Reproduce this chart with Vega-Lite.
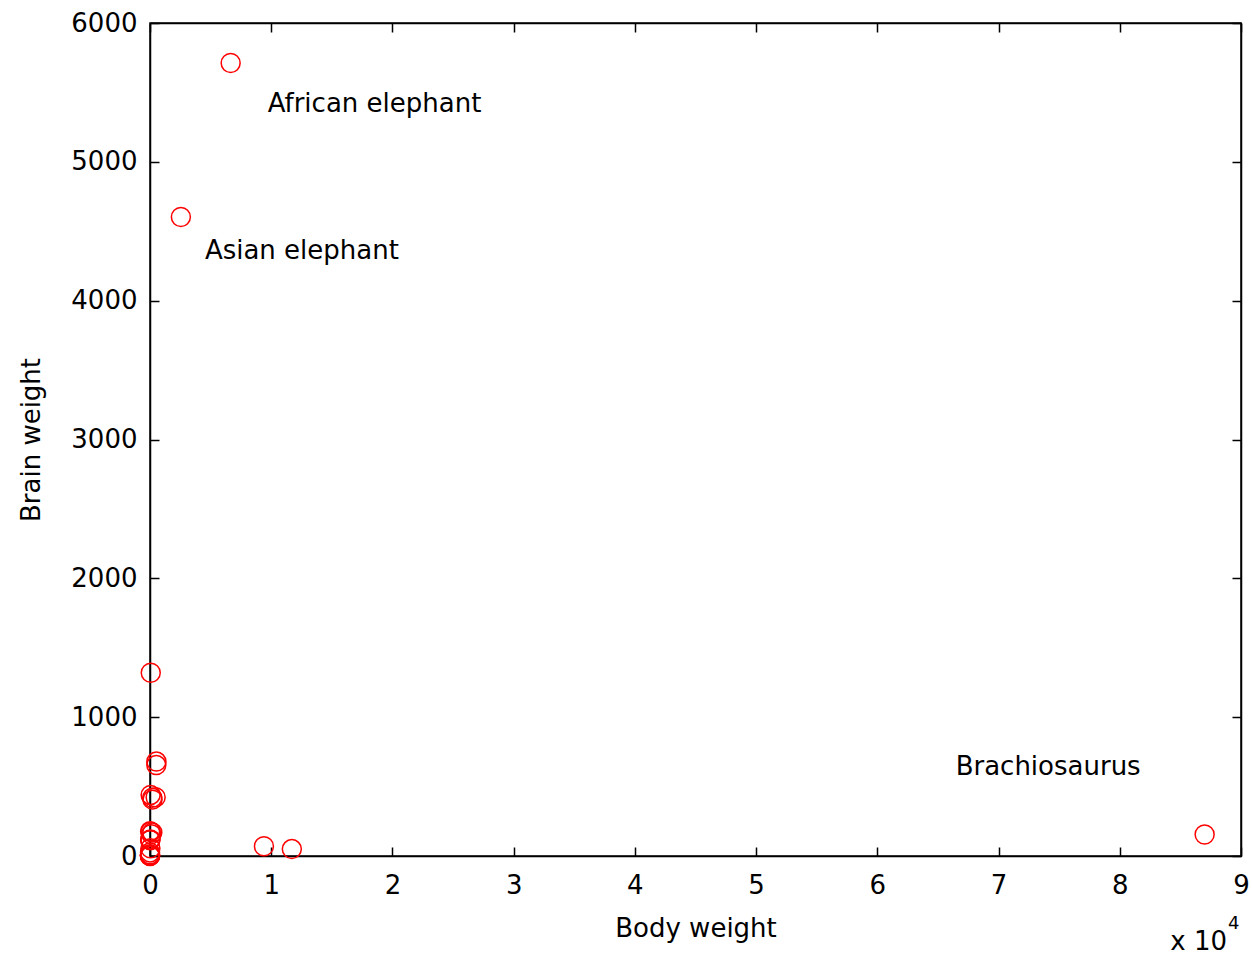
{
  "$schema": "https://vega.github.io/schema/vega-lite/v6.json",
  "width": 1091,
  "height": 833,
  "autosize": {"type": "none"},
  "padding": {"left": 150, "top": 23, "right": 11, "bottom": 100},
  "background": "white",
  "config": {
    "view": {"stroke": "black", "strokeWidth": 1.5},
    "axis": {
      "grid": false,
      "domainColor": "black",
      "domainWidth": 1.5,
      "tickColor": "black",
      "tickWidth": 1.5,
      "tickSize": -9,
      "labelColor": "black",
      "labelFont": "DejaVu Sans",
      "labelFontSize": 26,
      "titleFont": "DejaVu Sans",
      "titleFontSize": 26,
      "titleFontWeight": "normal",
      "titleColor": "black"
    }
  },
  "datasets": {
    "animals": [
      {"animal": "Mountain beaver", "body": 1.35, "brain": 8.1},
      {"animal": "Cow", "body": 465, "brain": 423},
      {"animal": "Grey wolf", "body": 36.33, "brain": 119.5},
      {"animal": "Goat", "body": 27.66, "brain": 115},
      {"animal": "Guinea pig", "body": 1.04, "brain": 5.5},
      {"animal": "Dipliodocus", "body": 11700, "brain": 50},
      {"animal": "Asian elephant", "body": 2547, "brain": 4603},
      {"animal": "Donkey", "body": 187.1, "brain": 419},
      {"animal": "Horse", "body": 521, "brain": 655},
      {"animal": "Potar monkey", "body": 10, "brain": 115},
      {"animal": "Cat", "body": 3.3, "brain": 25.6},
      {"animal": "Giraffe", "body": 529, "brain": 680},
      {"animal": "Gorilla", "body": 207, "brain": 406},
      {"animal": "Human", "body": 62, "brain": 1320},
      {"animal": "African elephant", "body": 6654, "brain": 5712},
      {"animal": "Triceratops", "body": 9400, "brain": 70},
      {"animal": "Rhesus monkey", "body": 6.8, "brain": 179},
      {"animal": "Kangaroo", "body": 35, "brain": 56},
      {"animal": "Golden hamster", "body": 0.12, "brain": 1},
      {"animal": "Mouse", "body": 0.023, "brain": 0.4},
      {"animal": "Rabbit", "body": 2.5, "brain": 12.1},
      {"animal": "Sheep", "body": 55.5, "brain": 175},
      {"animal": "Jaguar", "body": 100, "brain": 157},
      {"animal": "Chimpanzee", "body": 52.16, "brain": 440},
      {"animal": "Rat", "body": 0.28, "brain": 1.9},
      {"animal": "Brachiosaurus", "body": 87000, "brain": 154.5},
      {"animal": "Mole", "body": 0.122, "brain": 3},
      {"animal": "Pig", "body": 192, "brain": 169}
    ]
  },
  "layer": [
    {
      "layer": [
        {
          "data": {"name": "animals"},
          "mark": {"type": "point", "shape": "circle", "filled": false, "color": "#ff0000", "size": 360, "strokeWidth": 1.5, "opacity": 1},
          "encoding": {
            "x": {"field": "body", "type": "quantitative", "scale": {"domain": [0, 90000], "nice": false, "zero": true},
                  "axis": {"orient": "bottom", "values": [0, 10000, 20000, 30000, 40000, 50000, 60000, 70000, 80000, 90000], "labelExpr": "format(datum.value / 10000, 'd')", "title": "Body weight", "labelPadding": 25, "titlePadding": 17, "labelFlush": false, "labelOverlap": false}},
            "y": {"field": "brain", "type": "quantitative", "scale": {"domain": [0, 6000], "nice": false},
                  "axis": {"orient": "left", "values": [0, 1000, 2000, 3000, 4000, 5000, 6000], "format": "d", "title": "Brain weight", "labelPadding": 22, "titlePadding": 26, "labelFlush": false, "labelOverlap": false}}
          }
        },
        {
          "data": {"name": "animals"},
          "transform": [{"filter": "datum.animal === 'African elephant'"}],
          "mark": {"type": "text", "align": "left", "baseline": "middle", "dx": 37, "dy": 41, "font": "DejaVu Sans", "fontSize": 26, "color": "black"},
          "encoding": {"x": {"field": "body", "type": "quantitative"}, "y": {"field": "brain", "type": "quantitative"}, "text": {"field": "animal"}}
        },
        {
          "data": {"name": "animals"},
          "transform": [{"filter": "datum.animal === 'Asian elephant'"}],
          "mark": {"type": "text", "align": "left", "baseline": "middle", "dx": 24, "dy": 34, "font": "DejaVu Sans", "fontSize": 26, "color": "black"},
          "encoding": {"x": {"field": "body", "type": "quantitative"}, "y": {"field": "brain", "type": "quantitative"}, "text": {"field": "animal"}}
        },
        {
          "data": {"name": "animals"},
          "transform": [{"filter": "datum.animal === 'Brachiosaurus'"}],
          "mark": {"type": "text", "align": "left", "baseline": "middle", "dx": -249, "dy": -68, "font": "DejaVu Sans", "fontSize": 26, "color": "black"},
          "encoding": {"x": {"field": "body", "type": "quantitative"}, "y": {"field": "brain", "type": "quantitative"}, "text": {"field": "animal"}}
        },
        {
          "data": {"values": [{"lbl": "x 10", "xv": 90000, "yv": 0}]},
          "mark": {"type": "text", "align": "right", "baseline": "middle", "dx": -14, "dy": 86, "font": "DejaVu Sans", "fontSize": 26, "color": "black"},
          "encoding": {"x": {"field": "xv", "type": "quantitative"}, "y": {"field": "yv", "type": "quantitative"}, "text": {"field": "lbl"}}
        },
        {
          "data": {"values": [{"lbl": "4", "xv": 90000, "yv": 0}]},
          "mark": {"type": "text", "align": "left", "baseline": "middle", "dx": -13, "dy": 68, "font": "DejaVu Sans", "fontSize": 18, "color": "black"},
          "encoding": {"x": {"field": "xv", "type": "quantitative"}, "y": {"field": "yv", "type": "quantitative"}, "text": {"field": "lbl"}}
        }
      ]
    },
    {
      "data": {"name": "animals"},
      "mark": {"type": "point", "opacity": 0},
      "encoding": {
        "x": {"field": "body", "type": "quantitative", "axis": {"orient": "top", "labels": false, "title": null, "values": [0, 10000, 20000, 30000, 40000, 50000, 60000, 70000, 80000, 90000]}},
        "y": {"field": "brain", "type": "quantitative", "axis": {"orient": "right", "labels": false, "title": null, "values": [0, 1000, 2000, 3000, 4000, 5000, 6000]}}
      }
    }
  ],
  "resolve": {"axis": {"x": "independent", "y": "independent"}}
}
